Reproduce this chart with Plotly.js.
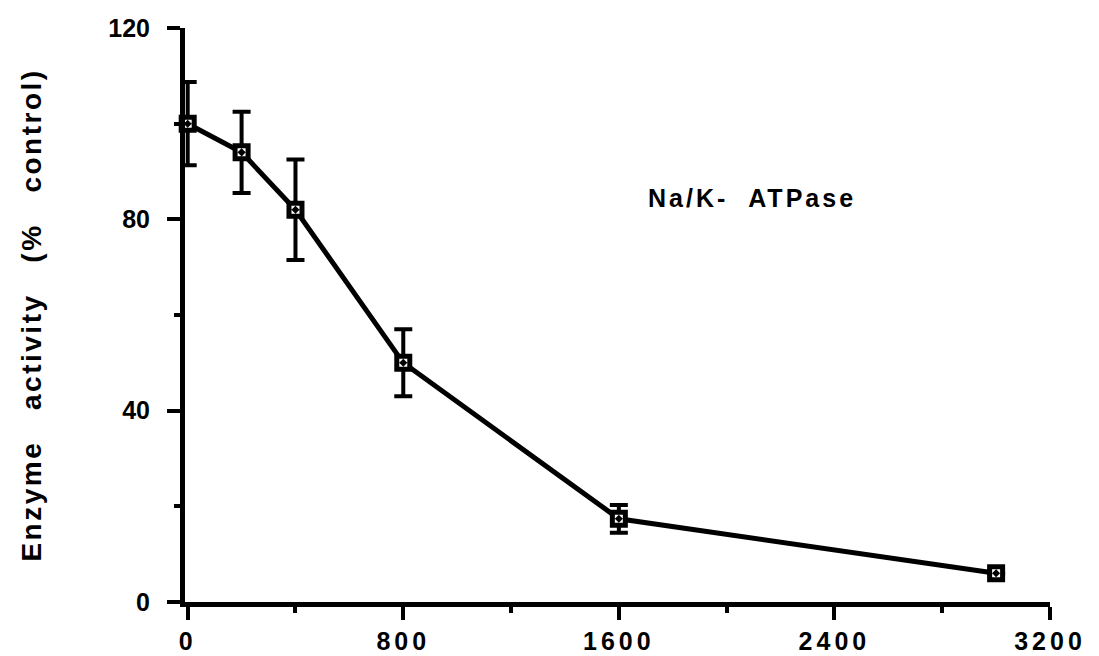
<!DOCTYPE html>
<html>
<head>
<meta charset="utf-8">
<script src="https://cdn.plot.ly/plotly-3.0.1.min.js"></script>
<style>
html,body{margin:0;padding:0;background:#fff;}
#chart{width:1099px;height:656px;}
.xtick text{letter-spacing:4px;}
.ytitle{letter-spacing:2.5px;}
.annotation-text{letter-spacing:3px;}
</style>
</head>
<body>
<div id="chart"></div>
<script>
// Data
const concentration = [0, 200, 400, 800, 1600, 3000];
const activity = [100, 94, 82, 50, 17.4, 6];
const errorSD = [8.7, 8.5, 10.5, 7, 2.9, 0];
const xTickVals = [0, 800, 1600, 2400, 3200];
const yTickVals = [0, 40, 80, 120];
const seriesLabel = "Na/K-\u00A0\u00A0ATPase";
const yTitle = "Enzyme\u00A0\u00A0\u00A0activity\u00A0\u00A0\u00A0(%\u00A0\u00A0\u00A0control)";

const trace = {
  x: concentration,
  y: activity,
  type: 'scatter',
  mode: 'lines+markers',
  cliponaxis: false,
  line: {color: '#000', width: 5},
  marker: {symbol: 'square-dot', size: 13, color: '#fff', line: {color: '#000', width: 5}},
  error_y: {type: 'data', array: errorSD, visible: true, color: '#000', thickness: 4, width: 9},
  showlegend: false
};

const tickFont = {family: 'Liberation Sans, Arial, sans-serif', size: 25, color: '#000', weight: 'bold'};

const layout = {
  width: 1099, height: 656,
  paper_bgcolor: '#fff', plot_bgcolor: '#fff',
  margin: {l: 185, r: 49, t: 28, b: 54},
  xaxis: {
    range: [-10, 3200], tickvals: xTickVals, ticktext: xTickVals.map(String),
    showgrid: false, zeroline: false, showline: true, linecolor: '#000', linewidth: 5,
    ticks: 'outside', ticklen: 13, tickwidth: 4, tickcolor: '#000',
    minor: {tickvals: [400, 1200, 2000, 2800], ticks: 'outside', ticklen: 6, tickwidth: 4, tickcolor: '#000', showgrid: false},
    tickfont: tickFont, ticklabelstandoff: 0
  },
  yaxis: {
    range: [0, 120], tickvals: yTickVals, ticktext: yTickVals.map(String),
    showgrid: false, zeroline: false, showline: true, linecolor: '#000', linewidth: 5,
    ticks: 'outside', ticklen: 13, tickwidth: 4, tickcolor: '#000',
    minor: {tickvals: [20, 60, 100], ticks: 'outside', ticklen: 6, tickwidth: 4, tickcolor: '#000', showgrid: false},
    tickfont: tickFont, ticklabelstandoff: 12,
    title: {text: yTitle, font: {family: 'Liberation Sans, Arial, sans-serif', size: 28, color: '#000', weight: 'bold'}, standoff: 60}
  },
  annotations: [{
    text: seriesLabel, xref: 'paper', yref: 'paper', x: 0.655, y: 0.703, showarrow: false,
    xanchor: 'center', yanchor: 'middle',
    font: {family: 'Liberation Sans, Arial, sans-serif', size: 25, color: '#000', weight: 'bold'}
  }]
};

Plotly.newPlot('chart', [trace], layout, {displayModeBar: false, staticPlot: true});
</script>
</body>
</html>
